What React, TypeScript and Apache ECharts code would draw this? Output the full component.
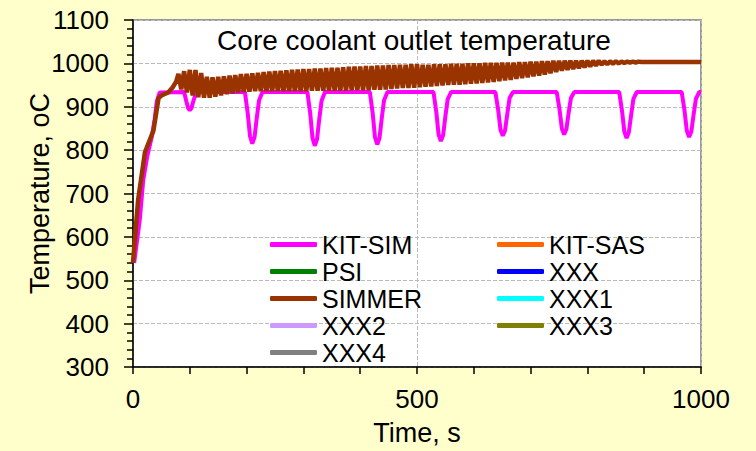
import React, { useEffect, useRef } from "react";
import * as echarts from "echarts";

const titleText = "Core coolant outlet temperature";
const xName = "Time, s";
const yName = "Temperature, oC";

const leftLegend = ["KIT-SIM", "PSI", "SIMMER", "XXX2", "XXX4"];
const rightLegend = ["KIT-SAS", "XXX", "XXX1", "XXX3"];

const seriesNames = ["KIT-SIM", "KIT-SAS", "PSI", "XXX", "XXX1", "XXX2", "XXX3", "XXX4", "SIMMER"];
const seriesColors: Record<string, string> = {
  "KIT-SIM": "#FF00FF",
  "KIT-SAS": "#FF6600",
  PSI: "#008000",
  XXX: "#0000FF",
  SIMMER: "#993300",
  XXX1: "#00FFFF",
  XXX2: "#CC99FF",
  XXX3: "#808000",
  XXX4: "#808080",
};

const kitSim: [number, number][] = [
  [2, 540], [8, 600], [12, 640], [18, 731], [25, 785], [33, 830], [38, 870], [42, 913], [47, 933],
  [90, 934], [94, 912], [97, 897], [100, 892], [103, 897], [106, 912], [110, 928], [113, 934],
  [197, 934], [202, 885], [206, 832], [210, 815], [214, 830], [218, 875], [222, 915], [228, 934],
  [307, 934], [312, 885], [316, 828], [320, 810], [324, 825], [328, 872], [332, 914], [338, 934],
  [417, 934], [422, 885], [426, 830], [430, 813], [434, 828], [438, 874], [442, 915], [448, 934],
  [529, 934], [534, 888], [538, 836], [542, 821], [546, 834], [550, 878], [554, 917], [560, 934],
  [638, 934], [643, 892], [647, 847], [651, 833], [655, 845], [659, 884], [663, 920], [669, 934],
  [746, 934], [751, 893], [755, 850], [759, 836], [763, 848], [767, 886], [771, 920], [777, 934],
  [856, 934], [861, 890], [865, 843], [869, 828], [873, 841], [877, 881], [881, 918], [887, 934],
  [966, 934], [971, 891], [975, 845], [979, 830], [983, 843], [987, 882], [991, 918], [997, 934],
  [1000, 934],
];

const simmer: [number, number][] = [
  [0, 541], [9, 685], [21, 795], [36, 845], [45, 920], [50, 926], [62, 933], [70, 945], [76, 958],
  [80, 976], [85, 940], [90, 982], [95, 933], [100, 985], [105, 926], [110, 985], [115, 922],
  [120, 978], [125, 921], [130, 969], [135, 921], [140, 968], [145, 923], [150, 969], [155, 926],
  [160, 970], [165, 929], [170, 972], [175, 931], [180, 973], [185, 933], [190, 975], [195, 934],
  [200, 976], [205, 935], [210, 977], [215, 936], [220, 978], [225, 936], [230, 980], [235, 936],
  [240, 981], [245, 936], [250, 982], [255, 936], [260, 983], [265, 936], [270, 984], [275, 936],
  [280, 985], [285, 936], [290, 986], [295, 936], [300, 987], [305, 936], [310, 987], [315, 937],
  [320, 988], [325, 937], [330, 988], [335, 937], [340, 989], [345, 937], [350, 990], [355, 937],
  [360, 990], [365, 937], [370, 991], [375, 937], [380, 992], [385, 938], [390, 993], [395, 938],
  [400, 993], [405, 938], [410, 994], [415, 938], [420, 994], [425, 939], [430, 995], [435, 939],
  [440, 995], [445, 940], [450, 996], [455, 941], [460, 996], [465, 942], [470, 997], [475, 943],
  [480, 997], [485, 943], [490, 998], [495, 944], [500, 998], [505, 945], [510, 997], [515, 946],
  [520, 997], [525, 947], [530, 998], [535, 948], [540, 998], [545, 949], [550, 998], [555, 950],
  [560, 999], [565, 951], [570, 999], [575, 951], [580, 999], [585, 952], [590, 1000], [595, 953],
  [600, 1000], [605, 954], [610, 1000], [615, 955], [620, 1001], [625, 956], [630, 1001], [635, 957],
  [640, 1001], [645, 959], [650, 1002], [655, 961], [660, 1002], [665, 962], [670, 1002], [675, 964],
  [680, 1003], [685, 966], [690, 1003], [695, 968], [700, 1004], [705, 970], [710, 1004], [715, 972],
  [720, 1005], [725, 974], [730, 1005], [735, 977], [740, 1006], [745, 980], [750, 1006], [755, 983],
  [760, 1006], [765, 985], [770, 1006], [775, 987], [780, 1006], [785, 989], [790, 1006], [795, 991],
  [800, 1006], [805, 993], [810, 1006], [815, 995], [820, 1006], [825, 997], [830, 1005], [835, 998],
  [840, 1005], [845, 999], [850, 1005], [855, 1000], [860, 1004], [865, 1001], [870, 1004], [875, 1002],
  [880, 1004], [885, 1002], [890, 1004], [895, 1003], [900, 1003], [1000, 1003],
];

const seriesData: Record<string, [number, number][]> = {
  "KIT-SIM": kitSim,
  SIMMER: simmer,
};

const FONT = "'Liberation Sans', Arial, sans-serif";

export default function App() {
  const ref = useRef<HTMLDivElement>(null);
  useEffect(() => {
    if (!ref.current) return;
    const chart = echarts.init(ref.current, undefined, { renderer: "svg" });
    const legendCommon = {
      orient: "vertical" as const,
      icon: "roundRect",
      itemWidth: 47,
      itemHeight: 5,
      itemGap: 0,
      padding: 0,
      selectedMode: false,
      textStyle: { fontSize: 25, color: "#000", fontFamily: FONT, lineHeight: 27 },
    };
    const fmt = (v: number) => String(v);
    chart.setOption({
      animation: false,
      backgroundColor: "#FFFFCC",
      textStyle: { fontFamily: FONT },
      title: {
        text: titleText,
        left: 414,
        top: 26,
        textAlign: "center",
        padding: 0,
        textStyle: { fontSize: 28, fontWeight: "normal", color: "#000", fontFamily: FONT },
      },
      grid: {
        left: 133,
        right: 55,
        top: 20,
        bottom: 82,
        show: true,
        backgroundColor: "#fff",
        borderColor: "#999",
        borderWidth: 2,
      },
      legend: [
        { ...legendCommon, left: 270, top: 231, data: leftLegend },
        { ...legendCommon, left: 497, top: 231, data: rightLegend },
      ],
      xAxis: {
        type: "value",
        min: 0,
        max: 1000,
        interval: 500,
        name: xName,
        nameLocation: "middle",
        nameGap: 52,
        nameMoveOverlap: false,
        nameTextStyle: { fontSize: 27, color: "#000", fontFamily: FONT },
        axisLine: { show: true, lineStyle: { color: "#000", width: 1.5 } },
        axisTick: { show: true, length: 7, lineStyle: { color: "#000", width: 1.5 } },
        minorTick: { show: true, splitNumber: 5, length: 7, lineStyle: { color: "#000", width: 1.5 } },
        axisLabel: { fontSize: 26, color: "#000", margin: 19, fontFamily: FONT, formatter: fmt },
        splitLine: { show: true, lineStyle: { color: "#bbb", type: "dashed", width: 1 } },
      },
      yAxis: {
        type: "value",
        min: 300,
        max: 1100,
        interval: 100,
        name: yName,
        nameLocation: "middle",
        nameGap: 80,
        nameMoveOverlap: false,
        nameTextStyle: { fontSize: 27, color: "#000", fontFamily: FONT },
        axisLine: { show: true, lineStyle: { color: "#000", width: 1.5 } },
        axisTick: { show: true, length: 9, lineStyle: { color: "#000", width: 1.5 } },
        minorTick: { show: true, splitNumber: 5, length: 6, lineStyle: { color: "#000", width: 1.5 } },
        axisLabel: { fontSize: 26, color: "#000", margin: 24, fontFamily: FONT, formatter: fmt },
        splitLine: { show: true, lineStyle: { color: "#bbb", type: "dashed", width: 1 } },
      },
      series: seriesNames.map((name) => ({
        name,
        type: "line",
        data: seriesData[name] || [],
        showSymbol: false,
        symbol: "none",
        smooth: false,
        color: seriesColors[name],
        lineStyle: { color: seriesColors[name], width: name === "SIMMER" ? 4.5 : 4 },
        itemStyle: { color: seriesColors[name] },
        emphasis: { disabled: true },
      })),
    });
    return () => chart.dispose();
  }, []);
  return (
    <div
      ref={ref}
      style={{ position: "fixed", left: 0, top: 0, width: 756, height: 451 }}
    />
  );
}
